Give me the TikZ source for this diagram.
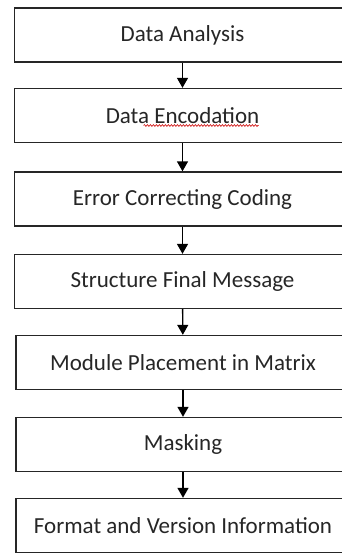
\documentclass[tikz,border=0pt]{standalone}
\usepackage{fontspec}
\setmainfont{Carlito}
\usetikzlibrary{arrows.meta,decorations.pathmorphing}
\begin{document}
\begin{tikzpicture}[x=1pt,y=-1pt,
  box/.style={draw=black!85, line width=1.4pt, minimum width=336pt, minimum height=54pt, inner sep=0pt, font=\fontsize{23}{26}\selectfont, text=black!85},
  arr/.style={draw=black, line width=1.4pt, -{Triangle[width=11pt,length=10pt]}},
  squiggle/.style={draw=red!80!black, line width=0.6pt, decorate, decoration={snake, amplitude=0.9pt, segment length=3pt}}]
\useasboundingbox (0,0) rectangle (342,554);
\node[box] (b1) at (182.5,35) {Data Analysis};
\node[box] (b2) at (182.5,115.5) {Data Encodation};
\node[box] (b3) at (182.5,199) {Error Correcting Coding};
\node[box] (b4) at (182.5,281.5) {Structure Final Message};
\node[box, minimum width=334pt] (b5) at (183,362.5) {Module Placement in Matrix};
\node[box, minimum width=334pt] (b6) at (183,444.5) {Masking};
\node[box, minimum width=334pt] (b7) at (183,525.5) {Format and Version Information};
\draw[squiggle, shift={(b2.center)}] (-39,10) -- (76,10);
\draw[arr] (b1) -- (b2);
\draw[arr] (b2) -- (b3);
\draw[arr] (b3) -- (b4);
\draw[arr] (b4) -- (b5);
\draw[arr] (b5) -- (b6);
\draw[arr] (b6) -- (b7);
\end{tikzpicture}
\end{document}
